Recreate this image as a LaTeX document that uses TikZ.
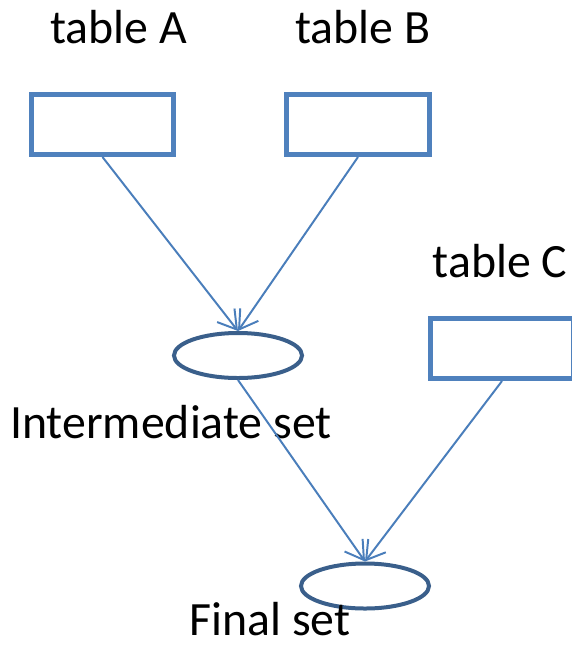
\documentclass[tikz,border=0pt]{standalone}
\usepackage{fontspec}
\setmainfont{Carlito}
\usetikzlibrary{shapes.geometric,arrows.meta,positioning}

\definecolor{boxblue}{HTML}{4F81BD}
\definecolor{setblue}{HTML}{3A5F8B}
\definecolor{linkblue}{HTML}{4A7EBB}

\begin{document}
\begin{tikzpicture}[x=0.025cm, y=-0.025cm,
    every node/.style={font=\fontsize{34}{40}\selectfont},
    lbl/.style={anchor=base, inner sep=0pt},
    tablebox/.style={rectangle, draw=boxblue, line width=5*0.025cm, minimum width=3.55cm, minimum height=1.5cm, inner sep=0pt},
    setnode/.style={ellipse, draw=setblue, line width=4*0.025cm, minimum width=3.2cm, minimum height=1.125cm, inner sep=0pt},
    link/.style={draw=linkblue, line width=1.4pt, -{Straight Barb[length=4.5mm,width=5.5mm]}}]
        \clip (0,0) rectangle (572,647);
        \useasboundingbox (0,0) rectangle (572,647);

        % Nodes
        \node[tablebox] (A) at (102.5,124.5) {};
        \node[tablebox] (B) at (358,124.5) {};
        \node[tablebox] (C) at (502,348.5) {};
        \node[setnode] (I) at (238,355.5) {};
        \node[setnode] (F) at (365,586) {};

        % Labels
        \node[lbl] (labA) at (118.5,43) {table A};
        \node[lbl] (labB) at (363,43) {table B};
        \node[lbl] (labC) at (500,277) {table C};
        \node[lbl] (labI) at (171,438) {Intermediate set};
        \node[lbl] (labF) at (270,635) {Final set};

        % Links
        \draw[link] (A.south) -- (I.north);
        \draw[link] (B.south) -- (I.north);
        \draw[link] (I.south) -- (F.north);
        \draw[link] (C.south) -- (F.north);
\end{tikzpicture}
\end{document}
